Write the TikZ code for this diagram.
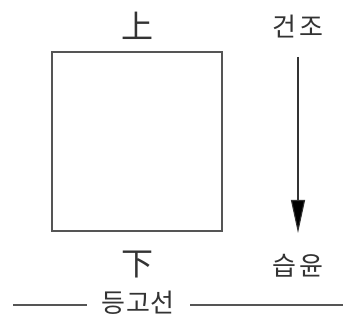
\documentclass[tikz,border=0pt]{standalone}
\usepackage{fontspec}
\newfontfamily\kr{Noto Sans CJK KR}
\usetikzlibrary{arrows.meta}
\definecolor{ink}{HTML}{333333}
\definecolor{edge}{HTML}{555555}
\begin{document}
\begin{tikzpicture}[x=1pt,y=-1pt,
  lbl/.style={font=\kr\fontsize{26}{26}\selectfont, text=ink, inner sep=0pt},
  han/.style={font=\kr\fontsize{32}{32}\selectfont, text=ink, inner sep=0pt},
  thin/.style={draw=edge, line width=1.1pt}]
\useasboundingbox (0,0) rectangle (343,320);
\fill[white] (0,0) rectangle (343,320);
\node[thin, minimum width=170pt, minimum height=179pt, inner sep=0pt] (box) at (137,141.5) {};
\node[han] (up) at (137,26) {上};
\node[han] (down) at (137,265) {下};
\node[lbl] (dry) at (298,27) {건\hspace{3pt}조};
\node[lbl] (wet) at (298,266) {습\hspace{3pt}윤};
\coordinate (a1) at (298,57);
\coordinate (a2) at (298,233);
\draw[draw=ink, line width=1.1pt, -{Triangle[length=33pt,width=14pt,fill=black]}] (a1) -- (a2);
\node[lbl, inner sep=0pt] (contour) at (138,303) {등\hspace{1pt}고\hspace{1pt}선};
\coordinate (l1) at (13,305);
\coordinate (l2) at (87,305);
\coordinate (r1) at (190,305);
\coordinate (r2) at (343,305);
\draw[thin] (l1) -- (l2);
\draw[thin] (r1) -- (r2);
\end{tikzpicture}
\end{document}
